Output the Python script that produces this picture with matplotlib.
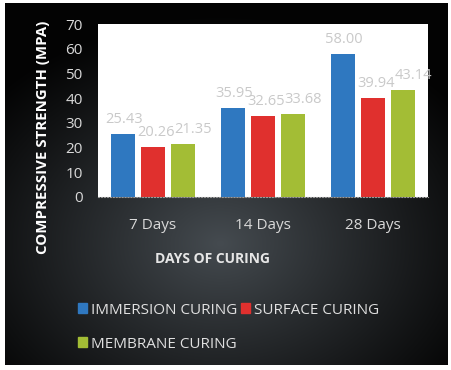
import numpy as np
import matplotlib
matplotlib.use('Agg')
import matplotlib.pyplot as plt
from matplotlib.patches import Patch

plt.rcParams['font.family'] = ['Open Sans', 'DejaVu Sans']

days = ['7 Days', '14 Days', '28 Days']
immersion = [25.43, 35.95, 58.00]
surface = [20.26, 32.65, 39.94]
membrane = [21.35, 33.68, 43.14]
series_names = ['IMMERSION CURING', 'SURFACE CURING', 'MEMBRANE CURING']
colors = ['#2f78c0', '#e0302e', '#a3bd35']


def main():
    fig = plt.figure(figsize=(4.52, 3.70), dpi=100, facecolor='white')

    # dark panel with radial gradient
    bg = fig.add_axes([5 / 452, 5 / 370, 443 / 452, 362 / 370])
    h, w = 362, 443
    yy, xx = np.mgrid[0:h, 0:w]
    d = np.sqrt(((xx - 215) / 300.0) ** 2 + ((yy - 240) / 230.0) ** 2)
    d = np.clip(d, 0, 1)
    c0 = np.array([0x45, 0x4b, 0x50]) / 255.0
    c1 = np.array([0x03, 0x03, 0x03]) / 255.0
    k = (1 - d[..., None]) ** 1.1
    img = c0[None, None, :] * k + c1[None, None, :] * (1 - k)
    bg.imshow(img, aspect='auto', interpolation='bilinear')
    bg.set_axis_off()

    ax = fig.add_axes([98 / 452, 173 / 370, 330 / 452, 173 / 370])
    ax.set_facecolor('white')
    x = np.arange(len(days))
    width = 0.22
    step = 0.275
    label_dx = [1, 2.5, 7]
    data = [immersion, surface, membrane]
    for i, vals in enumerate(data):
        pos = x + (i - 1) * step
        ax.bar(pos, vals, width, color=colors[i], zorder=2)
        for px, v in zip(pos, vals):
            ax.annotate('%.2f' % v, (px, v), xytext=(label_dx[i], 5), textcoords='offset points',
                        ha='center', va='bottom', fontsize=10.5, color='#c9c9c9', zorder=3)

    ax.set_xlim(-0.5, 2.5)
    ax.set_ylim(0, 70)
    ax.set_yticks(np.arange(0, 71, 10))
    ax.set_xticks(x)
    ax.set_xticklabels(days)
    for s in ['top', 'right', 'left']:
        ax.spines[s].set_visible(False)
    ax.spines['bottom'].set_color('#9a9a9a')
    ax.spines['bottom'].set_linestyle(':')
    ax.tick_params(axis='both', length=0, labelsize=11, colors='#d9d9d9')
    ax.tick_params(axis='y', pad=11)
    ax.tick_params(axis='x', pad=15)

    fig.text(43 / 452, 1 - 137 / 370, 'COMPRESSIVE STRENGTH (MPA)', rotation=90,
             ha='center', va='center', fontsize=10.8, fontweight='bold', color='white')
    fig.text(213 / 452, 1 - 259 / 370, 'DAYS OF CURING', ha='center', va='center',
             fontsize=10, fontweight='bold', color='#e6e6e6')

    handles = [Patch(color=colors[0], label=series_names[0]),
               Patch(color=colors[2], label=series_names[2]),
               Patch(color=colors[1], label=series_names[1])]
    leg = fig.legend(handles=handles, ncol=2, loc='upper left',
                     bbox_to_anchor=(70 / 452, 1 - 295 / 370), frameon=False,
                     fontsize=11, handlelength=0.6, handleheight=0.6, handletextpad=0.25,
                     columnspacing=0.25, labelspacing=1.25, borderpad=0)
    for t in leg.get_texts():
        t.set_color('#e0e0e0')

    fig.savefig('out.png', dpi=100, facecolor='white')


if __name__ == '__main__':
    main()
